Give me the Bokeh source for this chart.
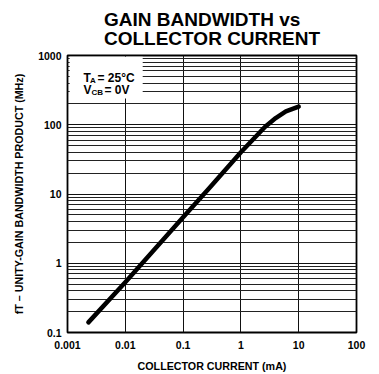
from bokeh.plotting import figure
from bokeh.models import FixedTicker, Title, BoxAnnotation, Label, ColumnDataSource
from bokeh.embed import file_html
from bokeh.resources import INLINE

# ---- data ----
ic_ma = [0.0023, 0.01, 0.1, 0.28, 1, 2.6, 4, 6, 10]
ft_mhz = [0.14, 0.53, 4.6, 12, 40, 93, 125, 156, 183]

x_ticks = [0.001, 0.01, 0.1, 1, 10, 100]
x_tick_labels = ["0.001", "0.01", "0.1", "1", "10", "100"]
y_ticks = [0.1, 1, 10, 100, 1000]
y_tick_labels = ["0.1", "1", "10", "100", "1000"]
y_minor = [m * d for d in [0.1, 1, 10, 100] for m in range(2, 10)]

title_text = "GAIN BANDWIDTH vs\nCOLLECTOR CURRENT"
x_label = "COLLECTOR CURRENT (mA)"
y_label = "fT – UNITY-GAIN BANDWIDTH PRODUCT (MHz)"

FONT = "Liberation Sans"

p = figure(width=379, height=374, x_axis_type="log", y_axis_type="log",
           x_range=(0.001, 100), y_range=(0.1, 1000),
           output_backend="svg", toolbar_location=None, title=None,
           min_border_left=67, min_border_right=23, min_border_top=55,
           min_border_bottom=41)

t = Title(text=title_text, align="center", text_font=FONT,
          text_font_size="19px", text_font_style="bold", text_color="black",
          text_line_height=0.9, standoff=13)
p.add_layout(t, "above")

p.outline_line_color = "black"
p.outline_line_width = 1.8

# grids
p.xgrid.ticker = FixedTicker(ticks=x_ticks)
p.xgrid.grid_line_color = "#111111"
p.xgrid.grid_line_width = 1
p.ygrid.ticker = FixedTicker(ticks=y_ticks, minor_ticks=y_minor)
p.ygrid.grid_line_color = "#111111"
p.ygrid.grid_line_width = 1
p.ygrid.minor_grid_line_color = "#222222"
p.ygrid.minor_grid_line_width = 1

# axes
for ax, ticks, labels in [(p.xaxis, x_ticks, x_tick_labels), (p.yaxis, y_ticks, y_tick_labels)]:
    ax.ticker = FixedTicker(ticks=ticks)
    ax.major_label_overrides = {tk: lb for tk, lb in zip(ticks, labels)}
    ax.axis_line_color = None
    ax.major_tick_line_color = None
    ax.minor_tick_line_color = None
    ax.major_tick_out = 0
    ax.major_tick_in = 0
    ax.minor_tick_out = 0
    ax.minor_tick_in = 0
    ax.major_label_text_font = FONT
    ax.major_label_text_font_style = "bold"
    ax.major_label_text_font_size = "10.5px"
    ax.major_label_text_color = "black"
    ax.axis_label_text_font = FONT
    ax.axis_label_text_font_style = "bold"
    ax.axis_label_text_font_size = "10.7px"
    ax.axis_label_text_color = "black"

p.xaxis.axis_label = x_label
p.yaxis.axis_label = y_label
p.xaxis.major_label_standoff = 8
p.xaxis.axis_label_standoff = 8
p.yaxis.major_label_standoff = 6
p.yaxis.axis_label_standoff = 10

# curve
src = ColumnDataSource(dict(x=ic_ma, y=ft_mhz))
p.line("x", "y", source=src, line_color="black", line_width=4.5,
       line_cap="round", line_join="round")

# white box behind the conditions text
p.add_layout(BoxAnnotation(left=0.00109, right=0.02, bottom=240, top=960,
                           fill_color="white", fill_alpha=1, line_color=None))

def lab(text, dx, dy, size):
    p.add_layout(Label(x=0.001, y=1000, x_offset=dx, y_offset=dy, text=text,
                       text_font=FONT, text_font_style="bold",
                       text_font_size=size, text_color="black",
                       text_baseline="alphabetic", text_align="left"))

lab("T", 16, -22, "12px")
lab("A", 22.5, -25, "8px")
lab("= 25°C", 30, -22, "12px")
lab("V", 16, -34, "12px")
lab("CB", 24, -37, "8px")
lab("= 0V", 37, -34, "12px")

open("out.html", "w").write(file_html(p, INLINE))
